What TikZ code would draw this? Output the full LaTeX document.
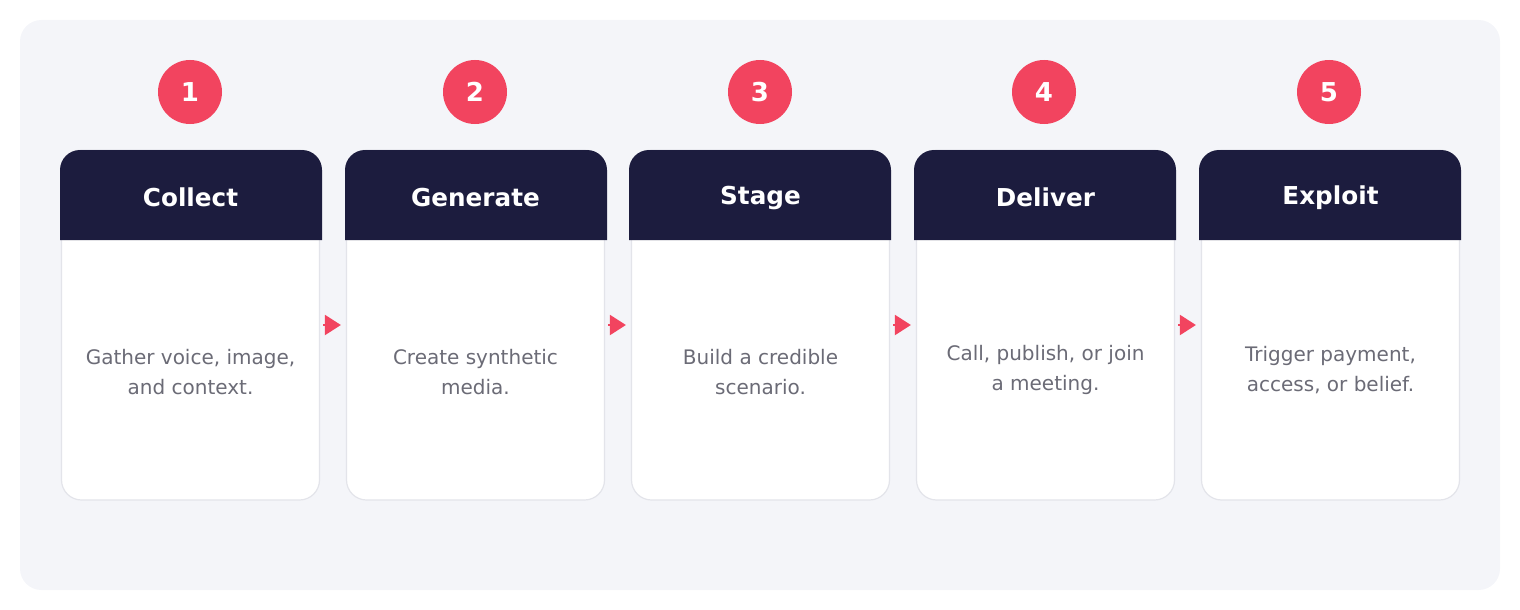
\documentclass[tikz,border=0pt]{standalone}
\usepackage{fontspec}
\setmainfont{DejaVu Sans}
\usetikzlibrary{arrows.meta}
\definecolor{panelbg}{HTML}{F4F5F9}
\definecolor{navy}{HTML}{1C1C3E}
\definecolor{accent}{HTML}{F2445F}
\definecolor{bodygray}{HTML}{6B6B76}
\definecolor{edgegray}{HTML}{E3E4EA}
\begin{document}
\begin{tikzpicture}[x=0.75pt,y=-0.75pt,
	card/.style={draw=edgegray,line width=0.9pt,fill=white,rounded corners=15pt,minimum width=258*0.75pt,minimum height=350*0.75pt,inner sep=0pt},
	badge/.style={circle,fill=accent,text=white,minimum size=64*0.75pt,inner sep=0pt,font=\fontsize{19.5}{22}\selectfont\bfseries},
	title/.style={anchor=base,text=white,font=\fontsize{18.5}{22}\selectfont\bfseries},
	body/.style={align=center,text=bodygray,font=\fontsize{15}{22.5}\selectfont},
	flow/.style={draw=accent,line width=1.5pt,-{Triangle[length=12pt,width=15pt]},shorten <=3*0.75pt,shorten >=5*0.75pt}]
	\useasboundingbox (0,0) rectangle (1520,610);
	\fill[panelbg,rounded corners=16pt] (20,20) rectangle (1500,590);
	
	\node[card] (c1) at (190.5,325) {};
	\node[card] (c2) at (475.5,325) {};
	\node[card] (c3) at (760.5,325) {};
	\node[card] (c4) at (1045.5,325) {};
	\node[card] (c5) at (1330.5,325) {};
	
	\fill[navy] (60,240) [rounded corners=15pt] -- (60,150) -- (322,150) [sharp corners] -- (322,240) -- cycle;
	\fill[navy] (345,240) [rounded corners=15pt] -- (345,150) -- (607,150) [sharp corners] -- (607,240) -- cycle;
	\fill[navy] (629,240) [rounded corners=15pt] -- (629,150) -- (891,150) [sharp corners] -- (891,240) -- cycle;
	\fill[navy] (914,240) [rounded corners=15pt] -- (914,150) -- (1176,150) [sharp corners] -- (1176,240) -- cycle;
	\fill[navy] (1199,240) [rounded corners=15pt] -- (1199,150) -- (1461,150) [sharp corners] -- (1461,240) -- cycle;
	
	\node[title] (t1) at (190.5,206) {Collect};
	\node[title] (t2) at (475.5,206) {Generate};
	\node[title] (t3) at (760.5,204) {Stage};
	\node[title] (t4) at (1045.5,206) {Deliver};
	\node[title] (t5) at (1330.5,204) {Exploit};
	
	\node[badge] (n1) at (190,92) {1};
	\node[badge] (n2) at (475,92) {2};
	\node[badge] (n3) at (760,92) {3};
	\node[badge] (n4) at (1044,92) {4};
	\node[badge] (n5) at (1329,92) {5};
	
	\node[body] (b1) at (190.5,372) {Gather voice, image,\\and context.};
	\node[body] (b2) at (475.5,372) {Create synthetic\\media.};
	\node[body] (b3) at (760.5,372) {Build a credible\\scenario.};
	\node[body] (b4) at (1045.5,370) {Call, publish, or join\\a meeting.};
	\node[body] (b5) at (1330.5,370) {Trigger payment,\\access, or belief.};
	
	\draw[flow] (c1.east |- 0,325) -- (c2.west |- 0,325);
	\draw[flow] (c2.east |- 0,325) -- (c3.west |- 0,325);
	\draw[flow] (c3.east |- 0,325) -- (c4.west |- 0,325);
	\draw[flow] (c4.east |- 0,325) -- (c5.west |- 0,325);
\end{tikzpicture}
\end{document}
